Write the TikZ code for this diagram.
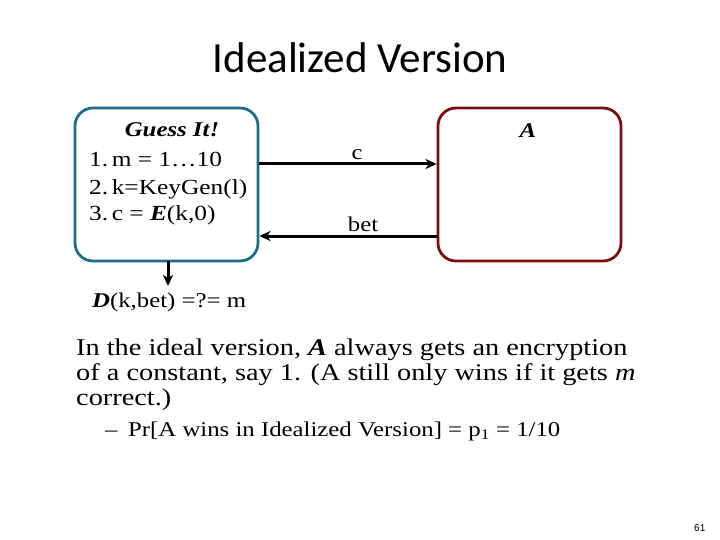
\documentclass[tikz,border=0pt]{standalone}
\usepackage{fontspec}
\setmainfont[FakeStretch=1.18]{Liberation Serif}
\newfontfamily\titlefont{Carlito}
\newfontfamily\numfont{Liberation Sans}
\usetikzlibrary{arrows.meta}
\definecolor{boxblue}{RGB}{31,107,140}
\definecolor{boxred}{RGB}{122,14,14}
\tikzset{
  panel/.style={draw, line width=2.8pt, rounded corners=18pt},
  msg/.style={draw, line width=3pt, -{Stealth[length=11pt,width=10pt,inset=3pt]}},
  txt/.style={anchor=base west, inner sep=0pt},
  lab/.style={anchor=base, inner sep=0pt}
}
\begin{document}
\begin{tikzpicture}[x=1pt,y=-1pt]
\useasboundingbox (0,0) rectangle (720,540);
\node[lab, font=\titlefont\fontsize{43}{47}\selectfont] (title) at (360,73) {Idealized Version};
\node[panel, draw=boxblue, minimum width=183pt, minimum height=153pt] (G) at (166.5,184.5) {};
\node[panel, draw=boxred, minimum width=183pt, minimum height=153pt] (Abox) at (529.5,184.5) {};
\node[lab, font=\fontsize{21}{24}\selectfont\bfseries\itshape] (gi) at (172,137) {Guess It!};
\node[txt, font=\fontsize{21.5}{24}\selectfont] (l1) at (89,167) {1.\,m = 1…10};
\node[txt, font=\fontsize{21.5}{24}\selectfont] (l2) at (89,195) {2.\,k=KeyGen(l)};
\node[txt, font=\fontsize{21.5}{24}\selectfont] (l3) at (89,221) {3.\,c = \textbf{\textit{E}}(k,0)};
\node[lab, font=\fontsize{21}{24}\selectfont\bfseries\itshape] (alab) at (528,138) {A};
\coordinate (c1) at (G.east |- 0,164);
\coordinate (c2) at (Abox.west |- 0,164);
\draw[msg] (c1) -- (c2);
\node[lab, font=\fontsize{21}{24}\selectfont] (clab) at (357,160) {c};
\coordinate (b1) at (Abox.west |- 0,236);
\coordinate (b2) at (G.east |- 0,236);
\draw[msg] (b1) -- (b2);
\node[lab, font=\fontsize{21}{24}\selectfont] (blab) at (363,231) {bet};
\coordinate (d1) at (168,261);
\coordinate (d2) at (168,286);
\draw[msg] (d1) -- (d2);
\node[txt, font=\fontsize{21}{24}\selectfont] (dec) at (92,307) {\textbf{\textit{D}}(k,bet) =?= m};
\node[txt, font=\fontsize{24}{28}\selectfont] (p1) at (76,355) {In the ideal version, \textbf{\textit{A}} always gets an encryption};
\node[txt, font=\fontsize{24}{28}\selectfont] (p2) at (76,380) {of a constant, say 1. (A still only wins if it gets \textit{m}};
\node[txt, font=\fontsize{24}{28}\selectfont] (p3) at (76,405) {correct.)};
\node[txt, font=\fontsize{21}{24}\selectfont] (dash) at (105,436) {–};
\node[txt, font=\fontsize{21}{24}\selectfont] (pr) at (128,436) {Pr[A wins in Idealized Version] = p\textsubscript{1} = 1/10};
\node[txt, font=\numfont\fontsize{10}{12}\selectfont] (pg) at (694,531) {61};
\end{tikzpicture}
\end{document}
